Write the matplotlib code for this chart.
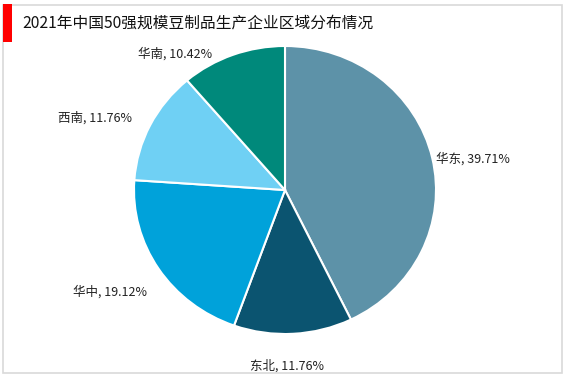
import matplotlib
matplotlib.use("Agg")
import matplotlib.pyplot as plt
import numpy as np
from matplotlib.patches import Rectangle

plt.rcParams["font.family"] = ["Noto Sans CJK SC", "DejaVu Sans"]

regions = ["华东", "东北", "华中", "西南", "华南"]
shares = [39.71, 11.76, 19.12, 11.76, 10.42]
colors = ["#5d92a8", "#0b5470", "#00a2da", "#6fd0f4", "#00897b"]
# label placement tweaks: distance from centre and angular shift (deg)
label_dist = [1.265, 1.22, 1.36, 1.355, 1.19]
label_shift = [-3, -2.4, -1.8, 5, 17.4]

fig = plt.figure(figsize=(5.67, 3.78), dpi=100)

# frame and title bar
fig.patches.append(Rectangle((3 / 567, 5 / 378), 559 / 567, 368 / 378,
                             transform=fig.transFigure, fill=False,
                             edgecolor="#d9d9d9", linewidth=1.2))
fig.patches.append(Rectangle((3 / 567, 336 / 378), 9 / 567, 38 / 378,
                             transform=fig.transFigure, facecolor="#ff0000",
                             edgecolor="none"))
fig.text(22 / 567, 1 - 23 / 378, "2021年中国50强规模豆制品生产企业区域分布情况",
         fontsize=11.3, va="center", ha="left", color="#111111")

ax = fig.add_axes([134 / 567, 44 / 378, 302 / 567, 288 / 378])
wedges, _ = ax.pie(shares, colors=colors, startangle=90, counterclock=False,
                   wedgeprops=dict(edgecolor="white", linewidth=1.5))
ax.set_aspect("auto")
ax.set_xlim(-1, 1)
ax.set_ylim(-1, 1)

for w, name, val, d, s in zip(wedges, regions, shares, label_dist, label_shift):
    ang = np.deg2rad((w.theta1 + w.theta2) / 2 + s)
    ax.text(d * np.cos(ang), d * np.sin(ang), f"{name}, {val:.2f}%",
            ha="center", va="center", fontsize=9, color="#222222")

fig.savefig("out.png", dpi=100)
